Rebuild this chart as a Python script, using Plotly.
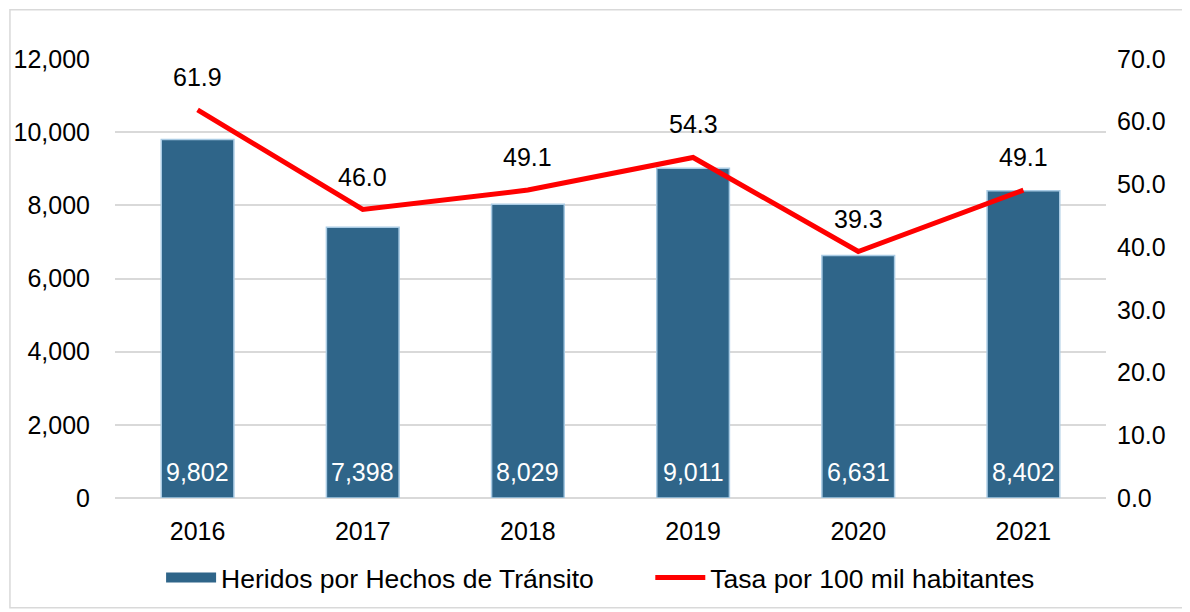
import plotly.graph_objects as go

years = ["2016", "2017", "2018", "2019", "2020", "2021"]
heridos = [9802, 7398, 8029, 9011, 6631, 8402]
tasa = [61.9, 46.0, 49.1, 54.3, 39.3, 49.1]

FONT = "Liberation Sans, Arial, sans-serif"
BAR_COLOR = "#2F6589"
PAD = "\u00a0" * 7

fig = go.Figure()
fig.add_trace(
    go.Bar(
        x=years,
        y=heridos,
        name="Heridos por Hechos de Tránsito",
        marker=dict(color=BAR_COLOR, line=dict(color="#A9CBE4", width=1.5)),
        width=0.44,
        showlegend=False,
    )
)
# legend-only entry so the swatch is a wide bar like the original
fig.add_trace(
    go.Scatter(
        x=[None], y=[None], mode="lines",
        name="Heridos por Hechos de Tránsito" + PAD,
        line=dict(color=BAR_COLOR, width=16),
    )
)
fig.add_trace(
    go.Scatter(
        x=years,
        y=tasa,
        name="Tasa por 100 mil habitantes",
        mode="lines",
        line=dict(color="#FF0000", width=5),
        yaxis="y2",
    )
)
# numeric-looking category names get read as indices by annotations, so use the index
for i, v in enumerate(tasa):
    fig.add_annotation(
        x=i, y=v, yref="y2", text=f"{v:.1f}", showarrow=False,
        yshift=33, font=dict(size=25, color="black", family=FONT),
    )
for i, v in enumerate(heridos):
    fig.add_annotation(
        x=i, y=0, text=f"{v:,}", showarrow=False, yanchor="middle",
        yshift=26, font=dict(size=25, color="white", family=FONT),
    )

fig.add_shape(
    type="rect", xref="paper", yref="paper",
    x0=-0.106, x1=1.078, y0=-0.25, y1=1.112,
    line=dict(color="#D9D9D9", width=1.5), layer="below",
)

fig.update_layout(
    width=1190,
    height=612,
    plot_bgcolor="white",
    paper_bgcolor="white",
    font=dict(family=FONT, size=25, color="black"),
    margin=dict(l=107, r=92, t=51, b=122, autoexpand=False),
    showlegend=True,
    legend=dict(
        orientation="h", x=0.49, xanchor="center", y=-0.182, yanchor="middle",
        font=dict(size=26.5), itemwidth=50, traceorder="normal",
    ),
    xaxis=dict(type="category", range=[-0.5, 5.5], showline=False, ticks="",
               ticklabelstandoff=16, automargin=False),
    yaxis=dict(
        range=[0, 12000], dtick=2000, tickformat=",", showgrid=True,
        gridcolor="#D9D9D9", gridwidth=1.5, zeroline=True, zerolinecolor="#D9D9D9",
        zerolinewidth=1.5, ticklabelstandoff=24, automargin=False,
    ),
    yaxis2=dict(
        range=[0, 70], dtick=10, tickformat=".1f", overlaying="y", side="right",
        showgrid=False, zeroline=False, ticklabelstandoff=10, automargin=False,
    ),
)

fig.write_html("out.html")
